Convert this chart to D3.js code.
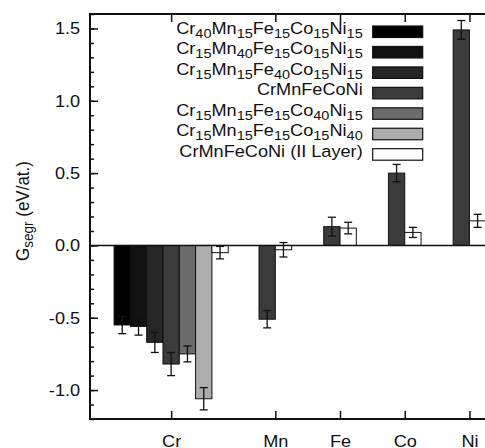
<!DOCTYPE html>
<html>
<head>
<meta charset="utf-8">
<script src="https://cdn.jsdelivr.net/npm/d3@7"></script>
<style>
  body { margin: 0; background: #fff; }
  svg { display: block; }
  text { font-family: "Liberation Sans", Arial, sans-serif; fill: #111; }
</style>
</head>
<body>
<svg id="chart" width="485" height="448"></svg>
<script>

// elements on the x axis and where they sit on it
var elements = ["Cr", "Mn", "Fe", "Co", "Ni"];
var element_x = [0.39, 2, 3, 4, 5];

// alloys (legend), written as [symbol, subscript] pairs
var alloys = [
  [["Cr", "40"], ["Mn", "15"], ["Fe", "15"], ["Co", "15"], ["Ni", "15"]],
  [["Cr", "15"], ["Mn", "40"], ["Fe", "15"], ["Co", "15"], ["Ni", "15"]],
  [["Cr", "15"], ["Mn", "15"], ["Fe", "40"], ["Co", "15"], ["Ni", "15"]],
  [["CrMnFeCoNi", ""]],
  [["Cr", "15"], ["Mn", "15"], ["Fe", "15"], ["Co", "40"], ["Ni", "15"]],
  [["Cr", "15"], ["Mn", "15"], ["Fe", "15"], ["Co", "15"], ["Ni", "40"]],
  [["CrMnFeCoNi (II Layer)", ""]]
];

// segregation energy (eV/at.), one row per alloy, one column per element
var g_segr = [
  [-0.55, null, null, null, null],
  [-0.56, null, null, null, null],
  [-0.67, null, null, null, null],
  [-0.82, -0.51, 0.13, 0.50, 1.49],
  [-0.75, null, null, null, null],
  [-1.06, null, null, null, null],
  [-0.05, -0.03, 0.12, 0.09, 0.17]
];

var g_err = [
  [0.06, null, null, null, null],
  [0.06, null, null, null, null],
  [0.07, null, null, null, null],
  [0.08, 0.06, 0.065, 0.06, 0.065],
  [0.055, null, null, null, null],
  [0.077, null, null, null, null],
  [0.043, 0.05, 0.04, 0.035, 0.045]
];

var y_ticks = [-1.0, -0.5, 0.0, 0.5, 1.0, 1.5];

// styles
var fills = ["#000000", "#121212", "#262626", "#3b3b3b", "#6b6b6b", "#adadad", "#ffffff"];
var font_size = 16.5,
    stretch = 1.1; // the text in the picture is a little wider than tall

var svg = d3.select("#chart");

var x = d3.scaleLinear().domain([-0.864, 5.5]).range([90, 501.8]);
var y = d3.scaleLinear().domain([-1.2, 1.6]).range([419, 14]);

var bar_w = x(0.252) - x(0);

// BARS

var bars = [];
elements.forEach(function(el, j) {
  var present = d3.range(alloys.length).filter(function(i) { return g_segr[i][j] !== null; });
  var n = present.length;
  present.forEach(function(i, k) {
    bars.push({
      alloy: i,
      value: g_segr[i][j],
      err: g_err[i][j],
      x0: x(element_x[j]) + (k - n / 2) * bar_w
    });
  });
});

svg.append("g").selectAll("rect")
  .data(bars)
  .enter().append("rect")
    .attr("x", function(d) { return d.x0; })
    .attr("width", bar_w)
    .attr("y", function(d) { return Math.min(y(d.value), y(0)); })
    .attr("height", function(d) { return Math.abs(y(d.value) - y(0)); })
    .attr("fill", function(d) { return fills[d.alloy]; })
    .attr("stroke", "#111")
    .attr("stroke-width", 1);

// zero line
svg.append("line")
  .attr("x1", x.range()[0]).attr("x2", x.range()[1])
  .attr("y1", y(0)).attr("y2", y(0))
  .attr("stroke", "#111")
  .attr("stroke-width", 1.5);

// error bars
var eb = svg.append("g").selectAll("g")
  .data(bars)
  .enter().append("g")
    .attr("stroke", "#111")
    .attr("stroke-width", 1.3);

eb.append("line")
  .attr("x1", function(d) { return d.x0 + bar_w / 2; })
  .attr("x2", function(d) { return d.x0 + bar_w / 2; })
  .attr("y1", function(d) { return y(d.value - d.err); })
  .attr("y2", function(d) { return y(d.value + d.err); });

[-1, 1].forEach(function(s) {
  eb.append("line")
    .attr("x1", function(d) { return d.x0 + bar_w / 2 - 4; })
    .attr("x2", function(d) { return d.x0 + bar_w / 2 + 4; })
    .attr("y1", function(d) { return y(d.value + s * d.err); })
    .attr("y2", function(d) { return y(d.value + s * d.err); });
});

// AXES

function style_axis(g) {
  g.select(".domain").remove();
  g.selectAll(".tick line").attr("stroke", "#111").attr("stroke-width", 1.5);
  g.selectAll(".tick text")
    .attr("fill", "#111")
    .style("font-size", font_size + "px");
}

// left: major ticks with labels, minor ticks every 0.1
svg.append("g")
  .attr("transform", "translate(" + x.range()[0] + ",0)")
  .call(d3.axisLeft(y).tickValues(y_ticks).tickSize(-8).tickPadding(9)
    .tickFormat(function(v) { return v.toFixed(1); }))
  .call(style_axis)
  .selectAll(".tick text")
    .attr("transform", "scale(" + stretch + ",1)");

svg.append("g")
  .attr("transform", "translate(" + x.range()[0] + ",0)")
  .call(d3.axisLeft(y).tickValues(d3.range(-12, 17).map(function(v) { return v / 10; }))
    .tickSize(-4).tickFormat(""))
  .call(style_axis);

// bottom: element labels
svg.append("g")
  .attr("transform", "translate(0," + y.range()[0] + ")")
  .call(d3.axisBottom(x).tickValues(element_x).tickSize(-8).tickPadding(16)
    .tickFormat(function(v, i) { return elements[i]; }))
  .call(style_axis)
  .selectAll(".tick text")
    .attr("transform", "scale(" + stretch + ",1)");

// top: ticks only
svg.append("g")
  .attr("transform", "translate(0," + y.range()[1] + ")")
  .call(d3.axisTop(x).tickValues(element_x).tickSize(-8).tickFormat(""))
  .call(style_axis);

// frame
svg.append("rect")
  .attr("x", x.range()[0]).attr("y", y.range()[1])
  .attr("width", x.range()[1] - x.range()[0])
  .attr("height", y.range()[0] - y.range()[1])
  .attr("fill", "none")
  .attr("stroke", "#111")
  .attr("stroke-width", 2);

// y title
var title = svg.append("text")
  .attr("transform", "translate(29,211) scale(" + stretch + ",1) rotate(-90)")
  .attr("text-anchor", "middle")
  .style("font-size", "17px");
title.append("tspan").text("G");
title.append("tspan").attr("dy", 4).style("font-size", "13.5px").text("segr");
title.append("tspan").attr("dy", -4).text(" (eV/at.)");

// LEGEND

var leg = svg.append("g").selectAll("g")
  .data(alloys)
  .enter().append("g")
    .attr("transform", function(d, i) { return "translate(0," + (26 + i * 20.45) + ")"; });

leg.append("rect")
  .attr("x", 372.7)
  .attr("width", 50)
  .attr("height", 11.5)
  .attr("fill", function(d, i) { return fills[i]; })
  .attr("stroke", "#111")
  .attr("stroke-width", 1.2);

var leg_text = leg.append("text")
  .attr("transform", "translate(362.7,12) scale(" + stretch + ",1)")
  .attr("text-anchor", "end")
  .style("font-size", font_size + "px");

leg_text.each(function(parts) {
  var t = d3.select(this);
  parts.forEach(function(p) {
    t.append("tspan").attr("dy", t.selectAll("tspan").size() ? -4 : 0).text(p[0]);
    if (p[1] != "")
      t.append("tspan").attr("dy", 4).style("font-size", (font_size * 0.8) + "px").text(p[1]);
  });
});

</script>
</body>
</html>
